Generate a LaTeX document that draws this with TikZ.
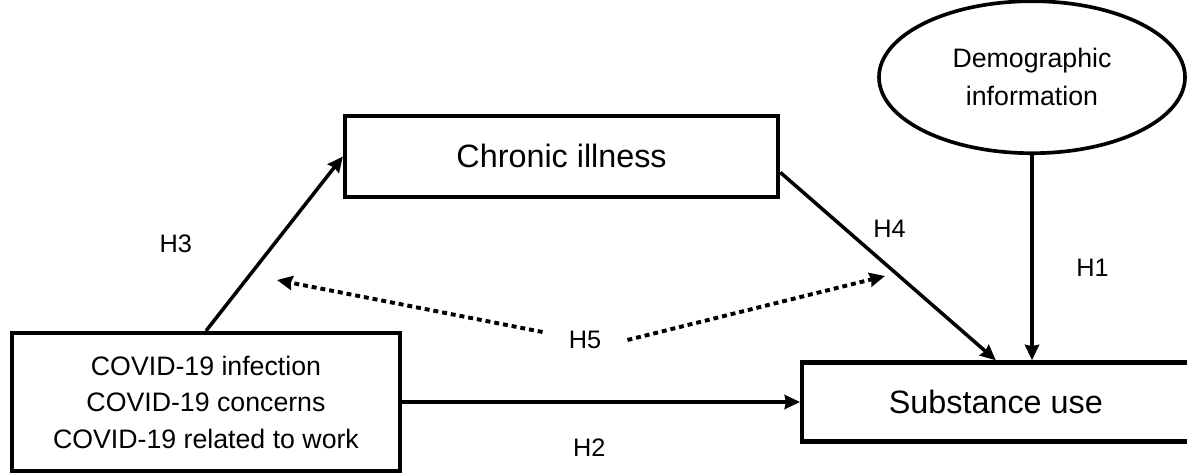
\documentclass[tikz,border=0pt]{standalone}
\usepackage{fontspec}
\setmainfont{Liberation Sans}
\usetikzlibrary{arrows.meta,positioning,shapes.geometric,calc}

\begin{document}
\begin{tikzpicture}[
    box/.style={rectangle, draw=black, line width=3pt, align=center, inner sep=0pt},
    oval/.style={ellipse, draw=black, line width=2.6pt, inner sep=0pt, minimum width=7.65cm, minimum height=3.8cm, align=center, font=\fontsize{19}{27}\selectfont},
    hyp/.style={font=\fontsize{18}{22}\selectfont},
    link/.style={->, line width=2.5pt},
    dotlink/.style={->, line width=2.8pt, dash pattern=on 3.5pt off 2.8pt},
    >={Stealth[length=11pt,width=10pt,inset=1pt]}
]
\useasboundingbox (-5.15,-1.8) rectangle (24.525,10.05);

\node[box, minimum width=9.7cm, minimum height=3.45cm, font=\fontsize{19}{26}\selectfont] (covid) {COVID-19 infection\\COVID-19 concerns\\COVID-19 related to work};
\node[box, minimum width=9.68cm, minimum height=1.98cm, font=\fontsize{23}{27}\selectfont, right=9.95cm of covid] (subst) {Substance use};
\node[box, minimum width=10.83cm, minimum height=2.03cm, font=\fontsize{23}{27}\selectfont] (chronic) at (8.89,6.14) {Chronic illness};
\node[oval] (demog) at (20.65,8.12) {Demographic\\information};
\node[hyp, inner xsep=0.65cm] (h5) at (9.475,1.55) {H5};
\coordinate (h5left) at (1.775,3.05);
\coordinate (h5right) at (16.975,3.15);

\draw[link] (covid.north) -- node[hyp, left=1.9cm] {H3} (chronic.west);
\draw[link] ([yshift=-0.4cm]chronic.east) -- node[hyp, pos=0.3, right=0.55cm] {H4} (subst.north);
\draw[link] (demog.south) -- node[hyp, pos=0.55, right=0.95cm] {H1} (demog.south |- subst.north);
\draw[link] (covid.east) -- node[hyp, pos=0.47, below=0.75cm] {H2} (subst.west);

% H5 both ways
\draw[dotlink] ([yshift=0.2cm]h5.west) -- (h5left);
\draw[dotlink] (h5.east) -- (h5right);

\end{tikzpicture}
\end{document}
